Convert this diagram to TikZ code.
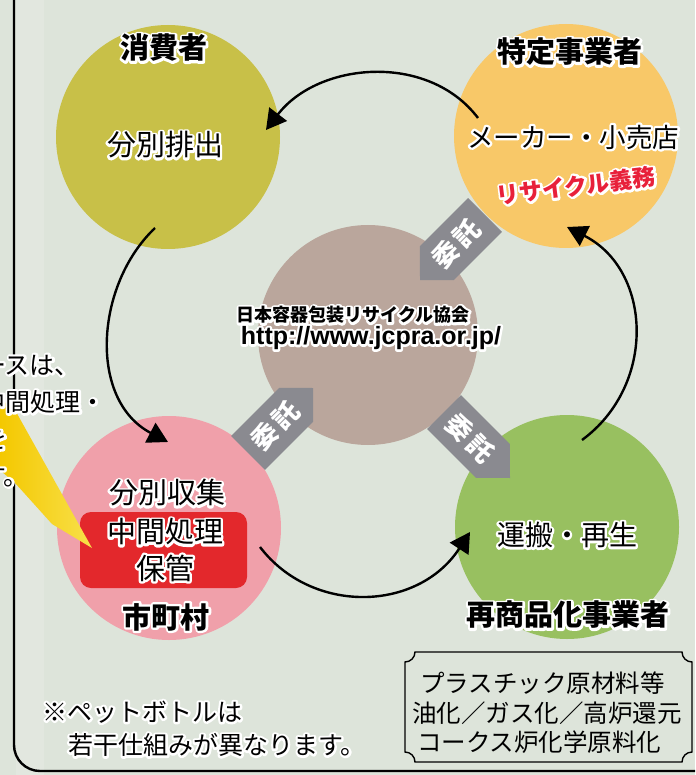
\documentclass[tikz,border=0pt]{standalone}
\usepackage{fontspec}
\setmainfont{Noto Sans CJK JP}
\newfontfamily\latfont{Liberation Sans}
\usetikzlibrary{arrows.meta,calc}
\definecolor{bgC}{HTML}{DDE4DA}
\definecolor{stripeC}{HTML}{E2E7DF}
\definecolor{consC}{HTML}{C8C048}
\definecolor{mfrC}{HTML}{F8C868}
\definecolor{cenC}{HTML}{BAA69C}
\definecolor{muniC}{HTML}{F0A0AA}
\definecolor{recC}{HTML}{98C060}
\definecolor{redC}{HTML}{E3282C}
\definecolor{dutyC}{HTML}{E8203A}
\definecolor{grayA}{HTML}{8A8A90}
\definecolor{yelA}{HTML}{F4C800}
\definecolor{yelB}{HTML}{F8E04A}
\newcommand\Halo[1]{\leavevmode\rlap{\color{white}\special{pdf:literal direct 1 j 1 J 4.6 w 1 1 1 RG 2 Tr}#1\special{pdf:literal direct 0 Tr 0.4 w 0 j 0 J}}#1}
\begin{document}
\begin{tikzpicture}[x=1pt,y=-1pt,
  disc/.style={circle,inner sep=0pt,draw=none,minimum size=224pt},
  lbl/.style={inner sep=0pt,font=\fontsize{29}{32}\selectfont\bfseries},
  body/.style={inner sep=0pt,font=\fontsize{29}{32}\selectfont},
  note/.style={inner sep=0pt,font=\fontsize{25}{28}\selectfont},
  boxtext/.style={inner sep=0pt,anchor=west,font=\fontsize{24.5}{27}\selectfont},
  flow/.style={line width=2.4pt,-{Triangle[length=20pt,width=22pt]}},
  gblock/.style={fill=grayA},
  gtext/.style={inner sep=0pt,text=white,font=\fontsize{26}{28}\selectfont\bfseries}]
\useasboundingbox (0,0) rectangle (695,775);
\fill[bgC] (0,0) rectangle (695,775);
\fill[stripeC] (16,0) rectangle (44,775);
% circles
\node[disc,fill=consC] (cons) at (168,137) {};
\node[disc,fill=mfrC] (mfr) at (566,136) {};
\node[disc,fill=cenC,minimum size=220pt] (cen) at (368,335) {};
\node[disc,fill=muniC] (muni) at (169,528) {};
\node[disc,fill=recC] (rec) at (567,527) {};
% red box in municipality circle
\node[fill=redC,rounded corners=11pt,minimum width=167pt,minimum height=76pt,inner sep=0pt] (rbox) at (163.5,550) {};
% frame
\draw[line width=2.4pt] (14,0) -- (14,745) arc[start angle=180,end angle=270,radius=26pt] -- (695,771);
% yellow callout
\shade[left color=yelA,right color=yelB] (0,405) -- (10,401) -- (92,548) -- (52,524) -- (16,484) -- (0,470) -- cycle;
% grey block arrows (itaku)
\coordinate (g1t) at (485,215); \coordinate (g1h) at (420,280);
\coordinate (g2t) at (248,453); \coordinate (g2h) at (313,388);
\coordinate (g3t) at (444,412); \coordinate (g3h) at (510,478);
\foreach \g in {g1,g2,g3}{
  \coordinate (\g s) at ($(\g t)!0.74!(\g h)$);
  \fill[gblock] ($(\g t)!24pt!90:(\g h)$) -- ($(\g s)!24pt!90:(\g h)$) -- (\g h)
     -- ($(\g s)!24pt!-90:(\g h)$) -- ($(\g t)!24pt!-90:(\g h)$) -- cycle;
}
\node[gtext,rotate=45] (g1x) at ($(g1t)!0.44!(g1h)$) {委\kern3pt 託};
\node[gtext,rotate=45] (g2x) at ($(g2t)!0.42!(g2h)$) {委\kern3pt 託};
\node[gtext,rotate=-45] (g3x) at ($(g3t)!0.40!(g3h)$) {委\kern3pt 託};
% black cycle arrows
\coordinate (a1s) at (478,118); \coordinate (a1e) at (266,130);
\coordinate (a2s) at (155,228); \coordinate (a2e) at (168,442);
\coordinate (a3s) at (260,547); \coordinate (a3e) at (470,532);
\coordinate (a4s) at (582,440); \coordinate (a4e) at (567,227);
\draw[flow] (a1s) .. controls (428,52) and (318,62) .. (a1e);
\draw[flow] (a2s) .. controls (95,285) and (88,400) .. (a2e);
\draw[flow] (a3s) .. controls (312,615) and (418,612) .. (a3e);
\draw[flow] (a4s) .. controls (657,385) and (652,270) .. (a4e);
% labels
\node[lbl] (consL) at (164,48) {\Halo{消費者}};
\node[lbl] (mfrL) at (570,52) {\Halo{特定事業者}};
\node[lbl] (muniL) at (166,617) {\Halo{市町村}};
\node[lbl] (recL) at (568,615) {\Halo{再商品化事業者}};
\node[body] (consT) at (165,145) {\Halo{分別排出}};
\node[body,font=\fontsize{26.5}{30}\selectfont] (mfrT) at (573,137) {\Halo{メーカー・小売店}};
\node[lbl,text=dutyC,rotate=7,font=\fontsize{23}{25}\selectfont\bfseries] (duty) at (576,186) {\Halo{リサイクル義務}};
\node[inner sep=0pt,font=\fontsize{18}{20}\selectfont\bfseries] (assoc) at (353,315) {\Halo{日本容器包装リサイクル協会}};
\node[inner sep=0pt,font=\latfont\fontsize{25}{27}\selectfont\bfseries] (url) at (371,338) {\Halo{http://www.jcpra.or.jp/}};
\node[body] (m1) at (167,493) {\Halo{分別収集}};
\node[body] (m2) at (165,532) {\Halo{中間処理}};
\node[body] (m3) at (165,568) {\Halo{保管}};
\node[body,font=\fontsize{28}{30}\selectfont] (recT) at (567,535) {\Halo{運搬・再生}};
% cut-off callout text
\node[note,anchor=east] (c1) at (80,365) {\Halo{ケースは、}};
\node[note,anchor=east] (c2) at (106,402) {\Halo{中間処理・}};
\node[note,anchor=east] (c3) at (8,439) {\Halo{保管を}};
\node[note,anchor=east] (c4) at (29,476) {\Halo{ます。}};
% bottom note
\node[note,anchor=west] (pet1) at (42,712) {\Halo{※ペットボトルは}};
\node[note,anchor=west] (pet2) at (68,745) {\Halo{若干仕組みが異なります。}};
% method box
\draw[line width=1.4pt] (415,652) -- (682,652) arc[start angle=180,end angle=270,radius=10pt]
  -- (692,752) arc[start angle=90,end angle=180,radius=10pt]
  -- (415,762) arc[start angle=0,end angle=90,radius=10pt]
  -- (405,662) arc[start angle=270,end angle=360,radius=10pt] -- cycle;
\node[boxtext] (b1) at (420,683) {プラスチック原材料等};
\node[boxtext] (b2) at (412,713) {油化／ガス化／高炉還元};
\node[boxtext] (b3) at (417,742) {コークス炉化学原料化};
\end{tikzpicture}
\end{document}
